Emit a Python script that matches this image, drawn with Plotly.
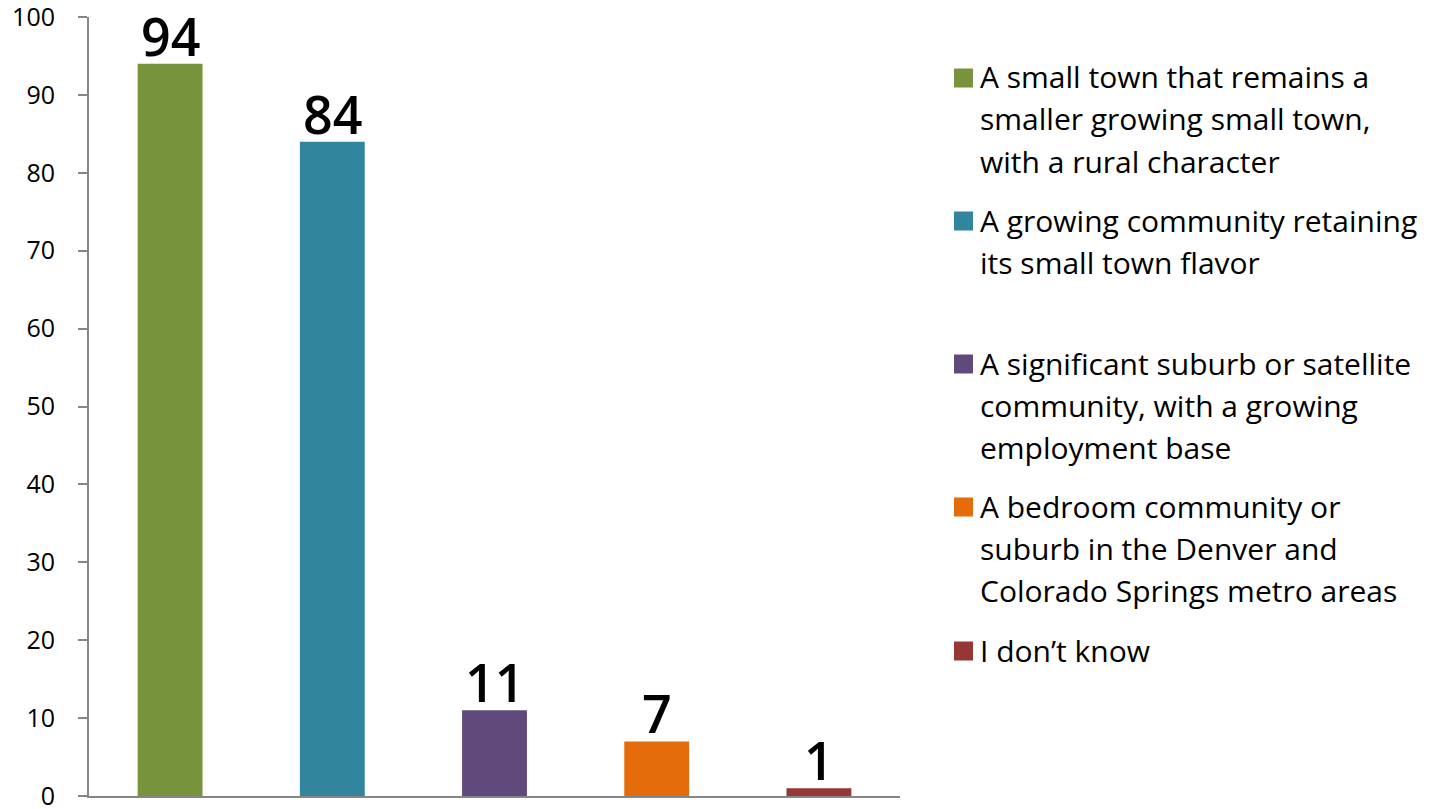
import plotly.graph_objects as go

categories = [
    "A small town that remains a smaller growing small town, with a rural character",
    "A growing community retaining its small town flavor",
    "A significant suburb or satellite community, with a growing employment base",
    "A bedroom community or suburb in the Denver and Colorado Springs metro areas",
    "I don\u2019t know",
]
legend_lines = [
    ["A small town that remains a", "smaller growing small town,", "with a rural character"],
    ["A growing community retaining", "its small town flavor"],
    ["A significant suburb or satellite", "community, with a growing", "employment base"],
    ["A bedroom community or", "suburb in the Denver and", "Colorado Springs metro areas"],
    ["I don\u2019t know"],
]
values = [94, 84, 11, 7, 1]
colors = ["#77933C", "#31859C", "#604A7B", "#E46C0A", "#953735"]
y_ticks = [0, 10, 20, 30, 40, 50, 60, 70, 80, 90, 100]

W, H = 1432, 809
# plot area in page pixels
L, T, R, B = 89, 17, 900, 796
FONT = "Open Sans"

fig = go.Figure()
fig.add_trace(go.Bar(
    x=categories, y=values, marker=dict(color=colors, line=dict(width=0)),
    showlegend=False, hoverinfo="skip",
))

def px_to_paper_x(px):
    return (px - L) / (R - L)

def px_to_paper_y(py):
    return (B - py) / (B - T)

annotations = []
# value labels above bars (data coordinates)
for c, v in zip(categories, values):
    annotations.append(dict(
        x=c, y=v, xref="x", yref="y", text=str(v), showarrow=False,
        xanchor="center", yanchor="bottom", yshift=-9,
        font=dict(family=FONT, size=52, color="black", weight=600),
    ))

# legend first-line centers (page pixel y) for each item
item_first_line = [78, 221, 364, 507, 651]
line_step = 42
shapes = []
for i, lines in enumerate(legend_lines):
    y0 = item_first_line[i]
    shapes.append(dict(
        type="rect", xref="paper", yref="paper",
        x0=px_to_paper_x(954), x1=px_to_paper_x(973),
        y0=px_to_paper_y(y0 + 9.5), y1=px_to_paper_y(y0 - 9.5),
        fillcolor=colors[i], line=dict(width=0),
    ))
    for j, ln in enumerate(lines):
        annotations.append(dict(
            xref="paper", yref="paper",
            x=px_to_paper_x(978), y=px_to_paper_y(y0 + j * line_step - 1),
            xanchor="left", yanchor="middle", showarrow=False,
            text=ln, font=dict(family=FONT, size=30, color="black"),
        ))

fig.update_layout(
    width=W, height=H,
    margin=dict(l=L, t=T, r=W - R, b=H - B, pad=0),
    paper_bgcolor="white", plot_bgcolor="white",
    bargap=0.6,
    shapes=shapes, annotations=annotations,
    font=dict(family=FONT, color="black"),
)
fig.update_xaxes(
    showticklabels=False, showgrid=False, ticks="", automargin=False,
    showline=True, linecolor="#868686", linewidth=2, zeroline=False,
)
fig.update_yaxes(
    range=[0, 100], tickvals=y_ticks, showgrid=False, zeroline=False,
    showline=True, linecolor="#868686", linewidth=2, automargin=False,
    ticks="outside", ticklen=9, tickwidth=2, tickcolor="#868686",
    tickfont=dict(family=FONT, size=25, color="black"),
    ticklabelstandoff=18, ticklabeloverflow="allow",
)

fig.write_html(
    "out.html",
    config={"displayModeBar": False},
    post_script="document.body.style.margin='0';document.body.style.overflow='hidden';",
)
